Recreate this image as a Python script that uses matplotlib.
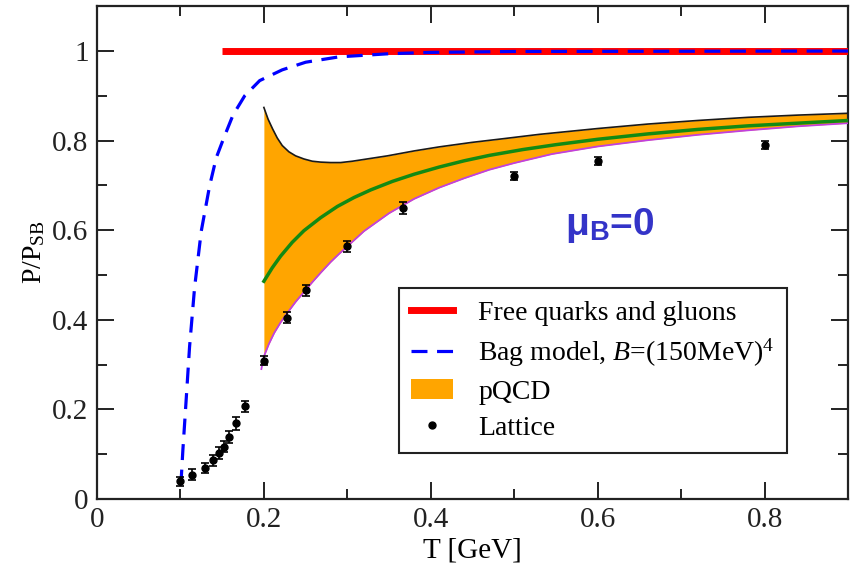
import matplotlib
matplotlib.use("Agg")
import matplotlib.pyplot as plt
from matplotlib.lines import Line2D
from matplotlib.patches import Patch
from matplotlib.ticker import MultipleLocator, FixedLocator
import numpy as np

plt.rcParams['font.family'] = ['Liberation Serif', 'DejaVu Serif']
plt.rcParams['mathtext.fontset'] = 'custom'
plt.rcParams['mathtext.rm'] = 'Liberation Serif'
plt.rcParams['mathtext.it'] = 'Liberation Serif:italic'
plt.rcParams['mathtext.bf'] = 'Liberation Sans:bold'

# Lattice data
lat_T = [0.100, 0.114, 0.129, 0.139, 0.146, 0.152, 0.158, 0.167, 0.177,
         0.200, 0.228, 0.251, 0.300, 0.367, 0.500, 0.600, 0.800]
lat_P = [0.040, 0.054, 0.069, 0.086, 0.102, 0.117, 0.138, 0.169, 0.207,
         0.309, 0.405, 0.466, 0.564, 0.650, 0.722, 0.755, 0.791]
lat_err = [0.010, 0.012, 0.012, 0.012, 0.013, 0.013, 0.014, 0.014, 0.012,
           0.011, 0.012, 0.012, 0.012, 0.013, 0.009, 0.009, 0.009]

# Free quarks and gluons (Stefan-Boltzmann limit)
free_T = [0.15, 0.90]
free_P = [1.0, 1.0]

# Bag model
bag_T = [0.100, 0.101, 0.103, 0.106, 0.111, 0.117, 0.125, 0.135, 0.143, 0.152,
         0.163, 0.177, 0.195, 0.222, 0.250, 0.290, 0.350, 0.400, 0.500, 0.900]
bag_P = [0.030, 0.045, 0.110, 0.195, 0.340, 0.472, 0.598, 0.699, 0.762, 0.806,
         0.857, 0.900, 0.934, 0.958, 0.975, 0.987, 0.994, 0.997, 0.999, 1.000]

# pQCD band
up_T = [0.200, 0.205, 0.2105, 0.216, 0.222, 0.230, 0.238, 0.248, 0.258, 0.268,
        0.280, 0.292, 0.306, 0.320, 0.348, 0.380, 0.410, 0.449, 0.490, 0.530,
        0.600, 0.660, 0.720, 0.780, 0.840, 0.900]
up_P = [0.874, 0.848, 0.826, 0.806, 0.789, 0.775, 0.766, 0.759, 0.754, 0.752,
        0.751, 0.751, 0.754, 0.758, 0.766, 0.777, 0.786, 0.796, 0.805, 0.814,
        0.827, 0.837, 0.845, 0.852, 0.857, 0.861]
mid_T = [0.200, 0.210, 0.220, 0.234, 0.248, 0.268, 0.288, 0.308, 0.328, 0.354,
         0.380, 0.410, 0.440, 0.470, 0.510, 0.550, 0.600, 0.660, 0.720, 0.780,
         0.840, 0.900]
mid_P = [0.486, 0.516, 0.542, 0.573, 0.599, 0.628, 0.653, 0.673, 0.690, 0.709,
         0.725, 0.741, 0.755, 0.767, 0.780, 0.791, 0.803, 0.815, 0.825, 0.833,
         0.839, 0.845]
lo_T = [0.197, 0.200, 0.206, 0.2125, 0.220, 0.228, 0.238, 0.248, 0.258, 0.268,
        0.280, 0.290, 0.300, 0.320, 0.350, 0.380, 0.410, 0.440, 0.470, 0.500,
        0.545, 0.600, 0.660, 0.720, 0.780, 0.840, 0.900]
lo_P = [0.290, 0.318, 0.346, 0.371, 0.394, 0.415, 0.440, 0.462, 0.484, 0.505,
        0.529, 0.547, 0.564, 0.598, 0.638, 0.670, 0.695, 0.716, 0.735, 0.750,
        0.770, 0.787, 0.801, 0.813, 0.823, 0.832, 0.839]

fig = plt.figure(figsize=(8.5, 5.67), dpi=100)
ax = fig.add_axes([0.114, 0.12, 0.884, 0.869])

# band fill
grid = np.linspace(0.2, 0.9, 400)
ax.fill_between(grid, np.interp(grid, lo_T, lo_P), np.interp(grid, up_T, up_P),
                color='#ffa500', lw=0, zorder=2)
ax.plot(up_T, up_P, color='#1a1a1a', lw=1.2, zorder=3)
ax.plot(lo_T, lo_P, color='#c040e0', lw=1.3, zorder=3)
ax.plot(mid_T, mid_P, color='#138a13', lw=2.5, zorder=4)

ax.plot(free_T, free_P, color='#ff0000', lw=5, solid_capstyle='butt', zorder=5)
ax.plot(bag_T, bag_P, color='#0000ff', lw=2.3, dashes=(5, 3), zorder=6)

ax.errorbar(lat_T, lat_P, yerr=lat_err, fmt='o', color='black', ms=5,
            capsize=3, elinewidth=1.2, capthick=1.2, zorder=7)

ax.set_xlim(0, 0.9)
ax.set_ylim(0, 1.1)
ax.xaxis.set_major_locator(FixedLocator([0, 0.2, 0.4, 0.6, 0.8]))
ax.xaxis.set_minor_locator(MultipleLocator(0.1))
ax.yaxis.set_major_locator(FixedLocator([0, 0.2, 0.4, 0.6, 0.8, 1.0]))
ax.yaxis.set_minor_locator(MultipleLocator(0.1))
ax.set_xticklabels(['0', '0.2', '0.4', '0.6', '0.8'])
ax.set_yticklabels(['0', '0.2', '0.4', '0.6', '0.8', '1'])
ax.tick_params(which='both', direction='in', top=True, right=True,
               labelsize=21, width=1.4, colors='#222222', pad=6)
ax.tick_params(which='major', length=12)
ax.tick_params(which='minor', length=7)
for s in ax.spines.values():
    s.set_linewidth(1.6)
    s.set_color('#222222')

ax.set_xlabel('T [GeV]', fontsize=21, labelpad=3)
ax.set_ylabel(r'P/P$_{\rm SB}$', fontsize=20, labelpad=4)

ax.text(0.561, 0.59, r'$\mathbf{\mu}_\mathbf{B}$=0', color='#3434c8', fontsize=28,
        family='Liberation Sans', weight='bold')

handles = [Line2D([], [], color='#ff0000', lw=5),
           Line2D([], [], color='#0000ff', lw=2.3, dashes=(5, 3)),
           Patch(facecolor='#ffa500', edgecolor='none'),
           Line2D([], [], color='black', marker='o', ms=5, ls='none')]
labels = ['Free quarks and gluons', r'Bag model, $B$=(150MeV)$^4$', 'pQCD', 'Lattice']
leg = ax.legend(handles, labels, loc='lower left', bbox_to_anchor=(0.402, 0.093),
                borderaxespad=0, fontsize=20, frameon=True, fancybox=False,
                framealpha=1, edgecolor='#222222', handlelength=1.5,
                labelspacing=0.38, borderpad=0.45, handletextpad=0.9)
leg.get_frame().set_linewidth(1.5)

fig.savefig('out.png', dpi=100)
